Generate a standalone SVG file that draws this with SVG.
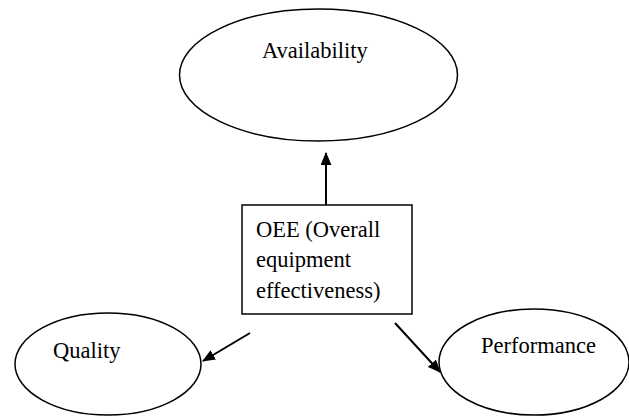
<svg xmlns="http://www.w3.org/2000/svg" width="629" height="416" viewBox="0 0 629 416">
<style>
.shape{fill:#fff;stroke:#000;stroke-width:1.5}
.lbl{font-family:"Liberation Serif","Times New Roman",serif;font-size:22.5px;fill:#000}
.conn{stroke:#000;stroke-width:2;fill:none}
</style>
<defs>
<marker id="ah" viewBox="0 0 12 10" refX="11" refY="5" markerWidth="13" markerHeight="11" markerUnits="userSpaceOnUse" orient="auto">
<path d="M0,0 L12,5 L0,10 Z" fill="#000"/>
</marker>
</defs>
<rect width="629" height="416" fill="#fff"/>
<g id="availability">
<ellipse class="shape" cx="318.5" cy="75" rx="139" ry="66"/>
<text class="lbl" x="262" y="58">Availability</text>
</g>
<g id="oee">
<rect class="shape" x="242" y="205" width="170" height="109"/>
<text class="lbl" x="256" y="237">OEE (Overall</text>
<text class="lbl" x="256" y="267">equipment</text>
<text class="lbl" x="256" y="298">effectiveness)</text>
</g>
<g id="quality">
<ellipse class="shape" cx="108" cy="364" rx="93" ry="51"/>
<text class="lbl" x="53" y="358">Quality</text>
</g>
<g id="performance">
<ellipse class="shape" cx="534" cy="362" rx="95" ry="53"/>
<text class="lbl" x="481" y="353">Performance</text>
</g>
<g id="connectors">
<line class="conn" x1="326" y1="205" x2="326" y2="153" marker-end="url(#ah)"/>
<line class="conn" x1="250" y1="333" x2="203" y2="361" marker-end="url(#ah)"/>
<line class="conn" x1="395" y1="323" x2="440" y2="372" marker-end="url(#ah)"/>
</g>
</svg>
